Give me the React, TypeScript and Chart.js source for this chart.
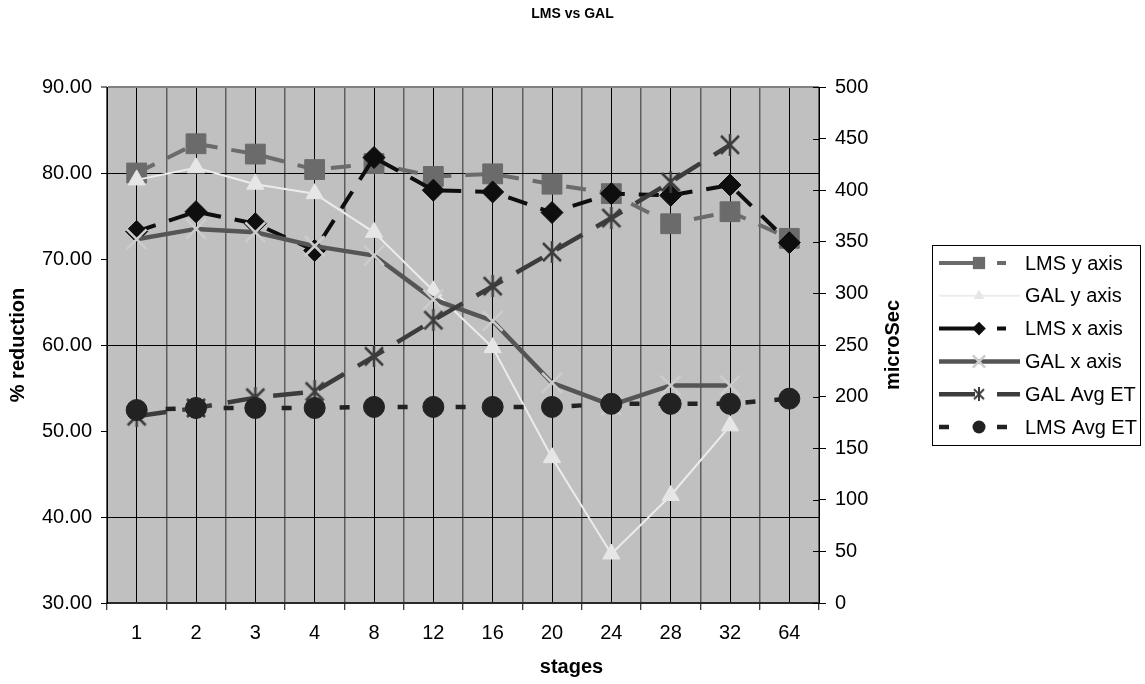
import React, { useEffect, useRef } from 'react';
import { Chart, registerables } from 'chart.js';

Chart.register(...registerables);

const FONT = '"Liberation Sans", Arial, Helvetica, sans-serif';

const stages = ['1', '2', '3', '4', '8', '12', '16', '20', '24', '28', '32', '64'];
const lmsYAxis = [80.0, 83.4, 82.2, 80.4, 81.1, 79.6, 79.9, 78.7, 77.6, 74.1, 75.5, 72.4];
const galYAxis = [79.2, 80.6, 78.7, 77.6, 73.1, 66.3, 59.7, 46.9, 35.7, 42.5, 50.6, null];
const lmsXAxis = [73.2, 75.5, 74.1, 71.0, 81.8, 78.0, 77.8, 75.4, 77.6, 77.4, 78.6, 71.9];
const galXAxis = [72.3, 73.5, 73.1, 71.5, 70.4, 65.3, 62.8, 55.6, 53.0, 55.3, 55.3, null];
const galAvgEt = [181, 189, 199, 205, 239, 274, 307, 340, 373, 408, 444, null];
const lmsAvgEt = [187, 189, 189, 189, 190, 190, 190, 190, 193, 193, 193, 198];

const leftMin = 30;
const leftMax = 90;
const leftStep = 10;
const rightMin = 0;
const rightMax = 500;
const rightStep = 50;

function makeStar(size: number, color: string, lw: number) {
  const c = document.createElement('canvas');
  c.width = size;
  c.height = size;
  const g = c.getContext('2d')!;
  g.strokeStyle = color;
  g.lineWidth = lw;
  const m = 2;
  g.beginPath();
  g.moveTo(m, m);
  g.lineTo(size - m, size - m);
  g.moveTo(size - m, m);
  g.lineTo(m, size - m);
  g.moveTo(size / 2, 0);
  g.lineTo(size / 2, size);
  g.stroke();
  return c;
}

function drawMarker(ctx: CanvasRenderingContext2D, ds: any, x: number, y: number, scale: number) {
  const style = ds.pointStyle;
  ctx.save();
  ctx.setLineDash([]);
  ctx.fillStyle = ds.pointBackgroundColor;
  ctx.strokeStyle = ds.pointBorderColor;
  ctx.lineWidth = ds.pointBorderWidth || 1;
  if (typeof style !== 'string') {
    const s = ds._legendStar as HTMLCanvasElement;
    ctx.drawImage(s, x - s.width / 2, y - s.height / 2);
    ctx.restore();
    return;
  }
  const r = ds.pointRadius * scale;
  ctx.beginPath();
  if (style === 'rect') {
    const h = r * Math.SQRT1_2;
    ctx.rect(x - h, y - h, 2 * h, 2 * h);
    ctx.fill();
  } else if (style === 'rectRot') {
    ctx.moveTo(x, y - r);
    ctx.lineTo(x + r, y);
    ctx.lineTo(x, y + r);
    ctx.lineTo(x - r, y);
    ctx.closePath();
    ctx.fill();
  } else if (style === 'triangle') {
    for (let k = 0; k < 3; k++) {
      const a = (k * 2 * Math.PI) / 3;
      const px = x + Math.sin(a) * r;
      const py = y - Math.cos(a) * r;
      if (k === 0) ctx.moveTo(px, py);
      else ctx.lineTo(px, py);
    }
    ctx.closePath();
    ctx.fill();
  } else if (style === 'circle') {
    ctx.arc(x, y, r, 0, Math.PI * 2);
    ctx.fill();
  } else if (style === 'crossRot') {
    const h = r * Math.SQRT1_2;
    ctx.moveTo(x - h, y - h);
    ctx.lineTo(x + h, y + h);
    ctx.moveTo(x + h, y - h);
    ctx.lineTo(x - h, y + h);
    ctx.stroke();
  }
  ctx.restore();
}

const decorPlugin = {
  id: 'decor',
  beforeDraw(chart: any) {
    const { ctx, chartArea: a } = chart;
    ctx.save();
    ctx.fillStyle = '#c0c0c0';
    ctx.fillRect(a.left, a.top, a.right - a.left, a.bottom - a.top);
    ctx.restore();
  },
  afterDraw(chart: any) {
    const { ctx, chartArea: a } = chart;
    ctx.save();
    // chart title
    ctx.fillStyle = '#000';
    ctx.font = `bold 14px ${FONT}`;
    ctx.textAlign = 'center';
    ctx.textBaseline = 'middle';
    ctx.fillText('LMS vs GAL', chart.width / 2, 14);

    // category axis title
    ctx.font = `bold 20px ${FONT}`;
    ctx.fillText('stages', chart.width / 2 - 1, 667);

    // secondary axis inner tick marks
    const y1 = chart.scales.y1;
    ctx.strokeStyle = '#000';
    ctx.lineWidth = 1;
    ctx.beginPath();
    y1.ticks.forEach((t: any) => {
      const py = Math.round(y1.getPixelForValue(t.value)) + 0.5;
      ctx.moveTo(a.right - 6, py);
      ctx.lineTo(a.right, py);
    });
    ctx.stroke();

    // secondary axis title
    ctx.save();
    ctx.translate(y1.left + 74, (a.top + a.bottom) / 2);
    ctx.rotate(-Math.PI / 2);
    ctx.font = `bold 20px ${FONT}`;
    ctx.fillStyle = '#000';
    ctx.textAlign = 'center';
    ctx.textBaseline = 'middle';
    ctx.fillText('microSec', 0, 0);
    ctx.restore();

    // legend
    const lx = 932.5;
    const ly = 245.5;
    const lw = 208;
    const rowH = 32.8;
    const firstRow = 263;
    const n = chart.data.datasets.length;
    const lh = Math.round(firstRow - ly + (n - 1) * rowH + 18);
    ctx.fillStyle = '#fff';
    ctx.fillRect(lx, ly, lw, lh);
    ctx.strokeStyle = '#000';
    ctx.lineWidth = 1;
    ctx.strokeRect(lx, ly, lw, lh);
    chart.data.datasets.forEach((ds: any, i: number) => {
      const ry = firstRow + i * rowH;
      ctx.save();
      ctx.strokeStyle = ds.borderColor;
      ctx.lineWidth = ds.borderWidth;
      ctx.setLineDash(ds._legendDash || []);
      ctx.beginPath();
      ctx.moveTo(939, ry);
      ctx.lineTo(1020, ry);
      ctx.stroke();
      ctx.restore();
      drawMarker(ctx, ds, 979, ry, 0.62);
      ctx.fillStyle = '#000';
      ctx.font = `20px ${FONT}`;
      ctx.textAlign = 'left';
      ctx.textBaseline = 'middle';
      ctx.fillText(ds.label, 1025, ry + 1);
    });
    ctx.restore();
  },
};

export default function App() {
  const ref = useRef<HTMLCanvasElement>(null);
  useEffect(() => {
    const canvas = ref.current;
    if (!canvas) return;
    const star = makeStar(22, '#3c3c3c', 2.5);
    const legendStar = makeStar(14, '#3c3c3c', 2);
    const tickFont = { family: FONT, size: 20 };
    const titleFont = { family: FONT, size: 20, weight: 'bold' as const };
    const chart = new Chart(canvas, {
      type: 'line',
      data: {
        labels: stages,
        datasets: [
          {
            label: 'LMS y axis',
            data: lmsYAxis,
            yAxisID: 'y',
            borderColor: '#6b6b6b',
            backgroundColor: '#6b6b6b',
            borderWidth: 4,
            borderDash: [20, 14],
            pointStyle: 'rect',
            pointRadius: 14,
            pointHoverRadius: 14,
            pointBackgroundColor: '#6b6b6b',
            pointBorderColor: '#6b6b6b',
            pointBorderWidth: 1,
            _legendDash: [34, 24, 9, 100],
            order: 6,
          } as any,
          {
            label: 'GAL y axis',
            data: galYAxis,
            yAxisID: 'y',
            borderColor: '#ececec',
            backgroundColor: '#e6e6e6',
            borderWidth: 2,
            pointStyle: 'triangle',
            pointRadius: 10,
            pointHoverRadius: 10,
            pointBackgroundColor: '#e6e6e6',
            pointBorderColor: '#e6e6e6',
            pointBorderWidth: 1,
            order: 5,
          },
          {
            label: 'LMS x axis',
            data: lmsXAxis,
            yAxisID: 'y',
            borderColor: '#0e0e0e',
            backgroundColor: '#0e0e0e',
            borderWidth: 4,
            borderDash: [20, 14],
            pointStyle: 'rectRot',
            pointRadius: 11,
            pointHoverRadius: 11,
            pointBackgroundColor: '#0e0e0e',
            pointBorderColor: '#0e0e0e',
            pointBorderWidth: 1,
            _legendDash: [36, 22, 9, 100],
            order: 4,
          } as any,
          {
            label: 'GAL x axis',
            data: galXAxis,
            yAxisID: 'y',
            borderColor: '#555555',
            backgroundColor: '#555555',
            borderWidth: 4.5,
            pointStyle: 'crossRot',
            pointRadius: 14,
            pointHoverRadius: 14,
            pointBackgroundColor: '#cccccc',
            pointBorderColor: '#cccccc',
            pointBorderWidth: 2.5,
            order: 3,
          },
          {
            label: 'GAL Avg ET',
            data: galAvgEt,
            yAxisID: 'y1',
            borderColor: '#3c3c3c',
            backgroundColor: '#3c3c3c',
            borderWidth: 4.5,
            borderDash: [30, 16],
            pointStyle: star,
            pointRadius: 11,
            pointHoverRadius: 11,
            pointBackgroundColor: '#3c3c3c',
            pointBorderColor: '#3c3c3c',
            pointBorderWidth: 2,
            _legendStar: legendStar,
            _legendDash: [36, 22, 24, 100],
            order: 2,
          } as any,
          {
            label: 'LMS Avg ET',
            data: lmsAvgEt,
            yAxisID: 'y1',
            borderColor: '#222222',
            backgroundColor: '#222222',
            borderWidth: 4.5,
            borderDash: [10, 19],
            pointStyle: 'circle',
            pointRadius: 10.5,
            pointHoverRadius: 10.5,
            pointBackgroundColor: '#222222',
            pointBorderColor: '#222222',
            pointBorderWidth: 1,
            _legendDash: [10, 48, 10, 100],
            order: 1,
          } as any,
        ],
      },
      options: {
        responsive: false,
        animation: false,
        events: [],
        layout: { padding: { top: 87, right: 226, bottom: 0, left: 0 } },
        plugins: {
          legend: { display: false },
          title: { display: false },
          tooltip: { enabled: false },
        },
        scales: {
          x: {
            type: 'category',
            offset: true,
            position: 'bottom',
            grid: {
              offset: true,
              color: '#5e5e5e',
              lineWidth: 1.5,
              tickColor: '#000',
              tickWidth: 1,
              tickLength: 7,
            },
            border: { color: '#2a2a2a', width: 2 },
            ticks: { color: '#000', font: tickFont, padding: 11, maxRotation: 0, autoSkip: false },
            afterFit: (s: any) => {
              s.height = 81;
            },
          },
          x2: {
            type: 'category',
            offset: true,
            position: 'top',
            grid: { offset: false, color: '#000', lineWidth: 1, drawTicks: false },
            border: { display: false },
            ticks: { display: false },
            afterFit: (s: any) => {
              s.height = 0;
            },
          },
          y: {
            type: 'linear',
            position: 'left',
            min: leftMin,
            max: leftMax,
            ticks: {
              stepSize: leftStep,
              color: '#000',
              font: tickFont,
              padding: 9,
              callback: (v: any) => Number(v).toFixed(2),
            },
            grid: {
              color: (c: any) => {
                const v = c.tick ? c.tick.value : null;
                if (v === 90) return '#808080';
                if (v === 40 || v === 60 || v === 80) return '#000';
                return 'rgba(0,0,0,0)';
              },
              lineWidth: (c: any) => (c.tick && c.tick.value === 90 ? 2 : 1),
              tickColor: '#000',
              tickWidth: 1,
              tickLength: 6,
            },
            border: { color: '#000', width: 1 },
            title: { display: true, text: '% reduction', color: '#000', font: titleFont, padding: { top: 6, bottom: 4 } },
            afterFit: (s: any) => {
              s.width = 107;
            },
          },
          y1: {
            type: 'linear',
            position: 'right',
            min: rightMin,
            max: rightMax,
            ticks: { stepSize: rightStep, color: '#000', font: tickFont, padding: 9 },
            grid: { drawOnChartArea: false, tickColor: '#000', tickWidth: 1, tickLength: 7, color: '#000' },
            border: { color: '#000', width: 1 },
            afterFit: (s: any) => {
              s.width = 100;
            },
          },
        },
      },
      plugins: [decorPlugin],
    });
    return () => chart.destroy();
  }, []);
  return (
    <div style={{ position: 'absolute', left: 0, top: 0, width: 1145, height: 684, background: '#fff' }}>
      <canvas ref={ref} width={1145} height={684} style={{ display: 'block' }} />
    </div>
  );
}
